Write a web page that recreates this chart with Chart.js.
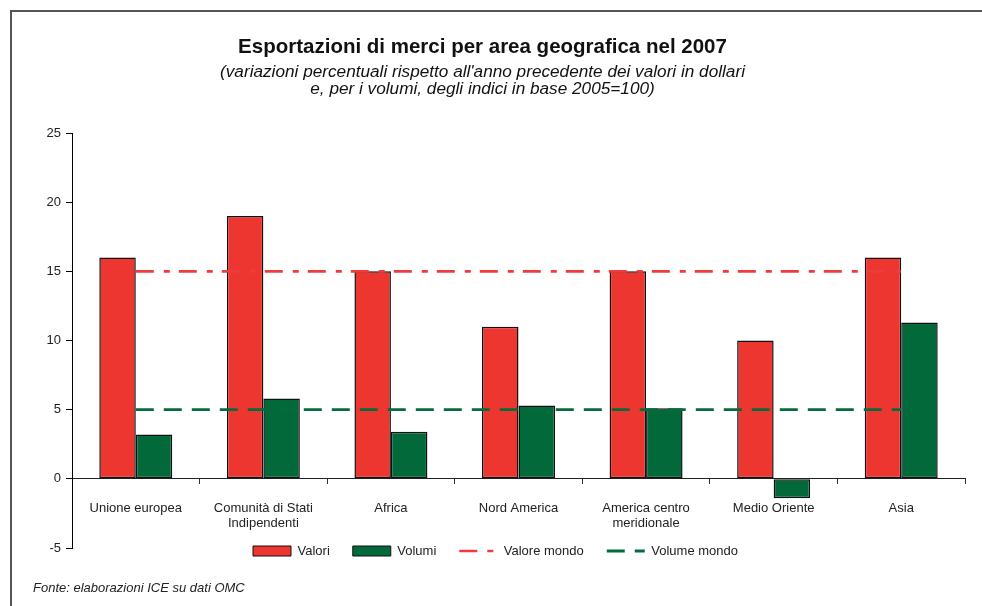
<!DOCTYPE html>
<html><head><meta charset="utf-8">
<script src="https://cdn.jsdelivr.net/npm/chart.js@4"></script>
<style>
html,body{margin:0;padding:0;background:#fff;}
#wrap{position:relative;width:982px;height:606px;overflow:hidden;background:#fff;}
#frame{position:absolute;left:10px;top:10px;width:980px;height:600px;border-top:2px solid #555;border-left:2px solid #555;pointer-events:none;}
#src{position:absolute;left:33px;top:580px;font:italic 13px 'Liberation Sans',Arial,sans-serif;color:#222;white-space:nowrap;}
canvas{position:absolute;left:0;top:0;}
</style></head>
<body><div id="wrap"><canvas id="c" width="982" height="606"></canvas><div id="frame"></div><div id="src">Fonte: elaborazioni ICE su dati OMC</div></div>
<script>
const categories = ['Unione europea', ['Comunità di Stati', 'Indipendenti'], 'Africa', 'Nord America', ['America centro', 'meridionale'], 'Medio Oriente', 'Asia'];
const valori = [16, 19, 15, 11, 15, 10, 16];
const volumi = [3.2, 5.8, 3.4, 5.3, 5.1, -1.4, 11.3];
const valoreMondo = [15, 15, 15, 15, 15, 15, 15];
const volumeMondo = [5, 5, 5, 5, 5, 5, 5];
const yMin = -5, yMax = 25, yStep = 5;
const titleText = 'Esportazioni di merci per area geografica nel 2007';
const subtitleText = ["(variazioni percentuali rispetto all'anno precedente dei valori in dollari", 'e, per i volumi, degli indici in base 2005=100)'];

const RED = '#ee3630', GREEN = '#026a3a', RED_LINE = '#ee3b3b', GREEN_LINE = '#056b3b';
const FONT = "'Liberation Sans', Arial, sans-serif";

const legendShift = {
  id: 'legendShift',
  beforeDraw(chart) {
    const lg = chart.legend;
    if (!lg || !lg.legendHitBoxes || !lg.legendHitBoxes.length) return;
    const h = lg.legendHitBoxes[0];
    const dy = 551 - (h.top + h.height / 2);
    const dx = 253 - h.left;
    lg.top += dy; lg.bottom += dy; lg.left += dx; lg.right += dx;
    lg.legendHitBoxes.forEach(b => { b.top += dy; b.left += dx; });
  }
};

new Chart(document.getElementById('c'), {
  data: {
    labels: categories,
    datasets: [
      { type: 'bar', label: 'Valori', data: valori, backgroundColor: RED, borderColor: '#111', borderWidth: 1.5, borderSkipped: false, order: 2, categoryPercentage: 0.572, barPercentage: 1 },
      { type: 'bar', label: 'Volumi', data: volumi, backgroundColor: GREEN, borderColor: '#111', borderWidth: 1.5, borderSkipped: false, order: 2, categoryPercentage: 0.572, barPercentage: 1 },
      { type: 'line', label: 'Valore mondo', data: valoreMondo, borderColor: RED_LINE, borderWidth: 2.6, borderDash: [18, 10, 6, 9], pointRadius: 0, fill: false, order: 1 },
      { type: 'line', label: 'Volume mondo', data: volumeMondo, borderColor: GREEN_LINE, borderWidth: 2.8, borderDash: [18, 10], pointRadius: 0, fill: false, order: 1 }
    ]
  },
  options: {
    responsive: false,
    animation: false,
    devicePixelRatio: 1,
    layout: { padding: { left: 0, right: 17, top: 0, bottom: 12 } },
    plugins: {
      tooltip: { enabled: false },
      title: { display: true, text: titleText, color: '#111', font: { family: FONT, size: 20.5, weight: 'bold', lineHeight: '24px' }, padding: { top: 35, bottom: 4.5 } },
      subtitle: { display: true, text: subtitleText, color: '#111', font: { family: FONT, size: 17.2, style: 'italic', lineHeight: '17px' }, padding: { top: 0, bottom: 35.5 } },
      legend: {
        position: 'bottom',
        labels: {
          usePointStyle: true, pointStyleWidth: 38, boxHeight: 10, padding: 23,
          color: '#222', font: { family: FONT, size: 13 },
          generateLabels(chart) {
            return chart.data.datasets.map((ds, i) => ({
              text: ds.label,
              fillStyle: ds.type === 'bar' ? ds.backgroundColor : 'rgba(0,0,0,0)',
              strokeStyle: ds.type === 'bar' ? '#111' : ds.borderColor,
              lineWidth: ds.type === 'bar' ? 1 : ds.borderWidth,
              lineDash: ds.borderDash || [],
              pointStyle: ds.type === 'bar' ? 'rect' : 'line',
              fontColor: '#222',
              hidden: false,
              datasetIndex: i
            }));
          }
        }
      }
    },
    scales: {
      x: {
        position: { y: 0 },
        grid: { offset: true, drawOnChartArea: false, drawTicks: true, tickLength: 5, color: '#333' },
        border: { display: true, color: '#222', width: 1 },
        ticks: { color: '#222', font: { family: FONT, size: 13, lineHeight: '15px' }, padding: 17, maxRotation: 0, autoSkip: false }
      },
      y: {
        min: yMin, max: yMax,
        afterFit(scale) { scale.width = 72; },
        grid: { drawOnChartArea: false, drawTicks: true, tickLength: 6, color: '#000' },
        border: { display: true, color: '#000', width: 1 },
        ticks: { stepSize: yStep, color: '#222', font: { family: FONT, size: 13 }, padding: 5 }
      }
    }
  },
  plugins: [legendShift]
});
</script>
</body></html>
